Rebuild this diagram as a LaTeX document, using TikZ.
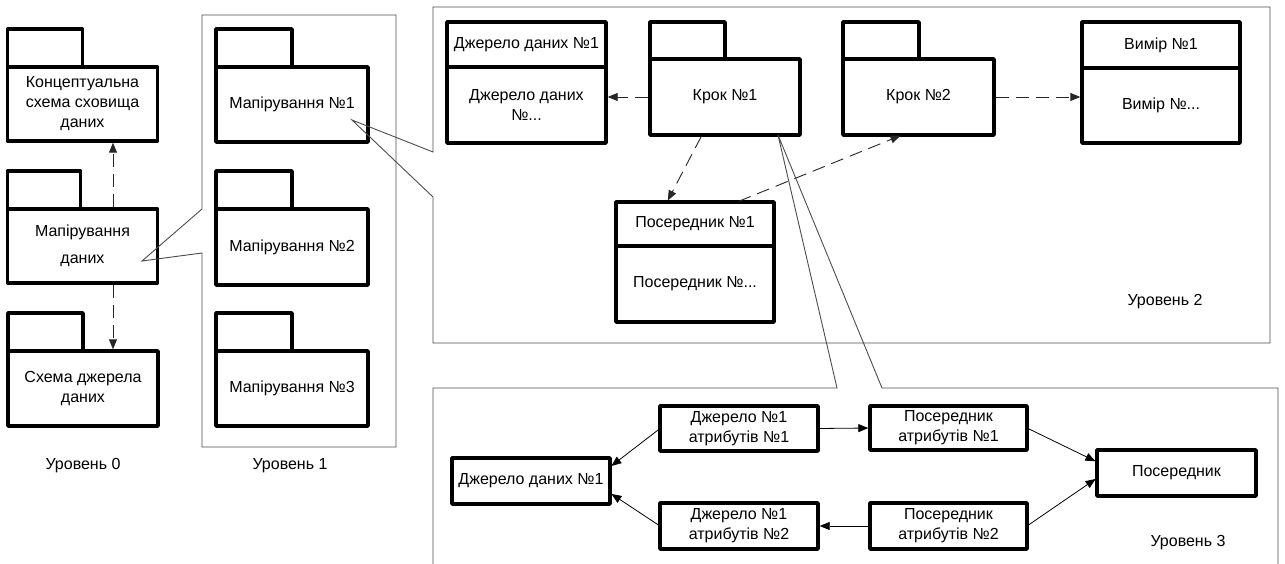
\documentclass[tikz,border=0pt]{standalone}
\usepackage{fontspec}
\setmainfont{Liberation Sans}
\usetikzlibrary{arrows.meta,calc}
\begin{document}
\begin{tikzpicture}[x=1pt,y=-1pt,
  font=\fontsize{16}{20}\selectfont,
  box/.style={draw, line width=3.5pt, fill=white, outer sep=0pt, inner sep=0pt, line join=round, align=center},
  tabbox/.style={box, anchor=south west, minimum width=75pt, minimum height=38pt},
  mainbox/.style={box, minimum width=150pt, minimum height=75pt},
  hdr/.style={box, minimum width=159pt, minimum height=45pt},
  bdy/.style={box, minimum width=159pt, minimum height=76pt},
  small/.style={box, minimum width=158pt, minimum height=46pt},
  frame/.style={draw=black!70, line width=0.9pt, line join=miter},
  dasharrow/.style={draw=black!85, dash pattern=on 13pt off 7pt, line width=0.9pt, shorten >=1.7pt, shorten <=1.7pt, -{Triangle[length=10pt,width=8pt]}},
  link/.style={line width=0.8pt, shorten >=1.7pt, shorten <=1.7pt, -{Triangle[length=10pt,width=8pt]}},
  lbl/.style={inner sep=0pt}]
\useasboundingbox (0,0) rectangle (1285,564);

% ---------- Level 0 ----------
\node[mainbox, minimum height=74pt] (c0a) at (82.5,104) {Концептуальна\\схема сховища\\даних};
\node[tabbox] (c0at) at (c0a.north west) {};
\node[mainbox, minimum height=74pt] (c0b) at (82.5,246) {Мапірування\\[7pt]даних};
\node[tabbox, minimum width=73pt] (c0bt) at (c0b.north west) {};
\node[mainbox] (c0c) at (83,388.5) {Схема джерела\\даних};
\node[tabbox] (c0ct) at (c0c.north west) {};
\node[lbl] (l0) at (83,466) {Уровень 0};

\coordinate (ax) at (113,0);
\draw[dasharrow] (c0b.north -| ax) -- (c0a.south -| ax);
\draw[dasharrow] (c0b.south -| ax) -- (c0c.north -| ax);

% ---------- Level 1 ----------
\node[mainbox, minimum width=152pt] (m1) at (292,104.5) {Мапірування №1};
\node[tabbox, minimum width=76pt] (m1t) at (m1.north west) {};
\node[mainbox, minimum width=152pt, minimum height=76pt] (m2) at (292,247) {Мапірування №2};
\node[tabbox, minimum width=76pt] (m2t) at (m2.north west) {};
\node[mainbox, minimum width=152pt] (m3) at (292,388.5) {Мапірування №3};
\node[tabbox, minimum width=76pt] (m3t) at (m3.north west) {};
\node[lbl] (l1) at (290,466) {Уровень 1};

% ---------- Level 2 ----------
\node[hdr] (srch) at (526.5,44.5) {Джерело даних №1};
\node[bdy] (srcb) at (526.5,105) {Джерело даних\\№...};
\node[mainbox, minimum height=76pt] (krok1) at (725,97) {Крок №1};
\node[tabbox, minimum height=37pt] (krok1t) at (krok1.north west) {};
\node[mainbox, minimum width=151pt, minimum height=76pt] (krok2) at (918.5,97) {Крок №2};
\node[tabbox, minimum width=76pt, minimum height=37pt] (krok2t) at (krok2.north west) {};
\node[hdr, minimum width=158pt, minimum height=46pt] (vymh) at (1161,45) {Вимір №1};
\node[bdy, minimum width=158pt, minimum height=75pt] (vymb) at (1161,105.5) {Вимір №...};
\node[hdr, minimum width=158pt, minimum height=44pt] (posh) at (695,224) {Посередник №1};
\node[bdy, minimum width=158pt] (posb) at (695,284) {Посередник №...};
\node[lbl] (l2) at (1165,302) {Уровень 2};

\draw[dasharrow] (krok1.west) -- (krok1.west -| srcb.east);
\draw[dasharrow] (krok2.east) -- (krok2.east -| vymb.west);
\draw[dasharrow] ($(krok1.south west)+(52,0)$) -- ($(posh.north west)+(51,0)$);
\draw[dasharrow] ($(posh.north west)+(121,0)$) -- ($(krok2.south west)+(59,0)$);

% ---------- Level 3 ----------
\node[small] (ds) at (531,481) {Джерело даних №1};
\node[small, minimum height=45pt] (a1) at (739,428.5) {Джерело №1\\атрибутів №1};
\node[small] (a2) at (739,526) {Джерело №1\\атрибутів №2};
\node[small, minimum width=157pt, minimum height=44pt] (p1) at (948.5,428) {Посередник\\атрибутів №1};
\node[small, minimum width=157pt] (p2) at (948.5,526) {Посередник\\атрибутів №2};
\node[small, minimum width=159pt] (pos) at (1176.5,473) {Посередник};
\node[lbl] (l3) at (1188,543) {Уровень 3};

\draw[link] (a1.west) -- ($(ds.north east)+(0,9)$);
\draw[link] (a2.west) -- ($(ds.south east)+(0,-11)$);
\draw[link] (a1.east) -- (p1.west);
\draw[link] (p2.west) -- (a2.east);
\draw[link] (p1.east) -- ($(pos.north west)+(0,12)$);
\draw[link] (p2.east) -- ($(pos.south west)+(0,-18)$);

% ---------- Frames ----------
\coordinate (ap0) at (142,261);
\draw[frame] (202,253) -- (ap0) -- (202,209) -- (202,15) -- (396,15) -- (396,447) -- (202,447) -- cycle;
\coordinate (ap1) at (352,120);
\draw[frame] (433,197) -- (ap1) -- (433,152) -- (433,7) -- (1270,7) -- (1270,343) -- (433,343) -- cycle;
\coordinate (ap2) at ($(krok1.south west)+(128,0)$);
\draw[frame] (433,570) -- (433,388) -- (837,388) -- (ap2) -- (882,388) -- (1278,388) -- (1278,570);
\end{tikzpicture}
\end{document}
